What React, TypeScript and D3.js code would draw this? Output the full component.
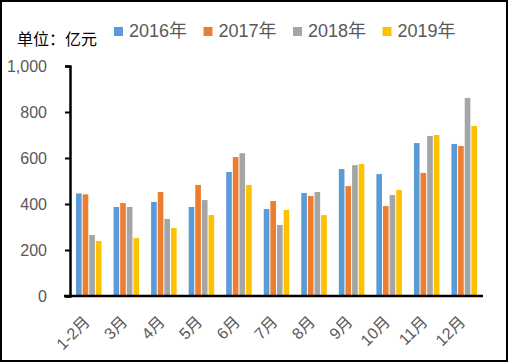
import React, { useEffect, useRef } from 'react';
import * as d3 from 'd3';

const months = ['1-2月', '3月', '4月', '5月', '6月', '7月', '8月', '9月', '10月', '11月', '12月'];
const series = ['2016年', '2017年', '2018年', '2019年'];
const colors = ['#5B9BD5', '#ED7D31', '#A5A5A5', '#FFC000'];
const v2016 = [446, 387, 409, 387, 539, 378, 448, 552, 530, 665, 661];
const v2017 = [442, 404, 452, 483, 604, 413, 435, 478, 391, 535, 652];
const v2018 = [265, 387, 335, 417, 621, 309, 452, 569, 439, 696, 861];
const v2019 = [239, 252, 296, 352, 483, 374, 352, 574, 461, 700, 739];
const yTicks = [0, 200, 400, 600, 800, 1000];

const W = 508, H = 362;
const FONT = '"Liberation Sans", "Noto Sans CJK SC", sans-serif';

const App = () => {
  const ref = useRef<SVGSVGElement>(null);

  useEffect(() => {
    const svg = d3.select(ref.current);
    svg.selectAll('*').remove();
    const values = [v2016, v2017, v2018, v2019];
    const left = 70, right = 483, top = 66, bottom = 296;

    svg.append('rect').attr('x', 1).attr('y', 1).attr('width', W - 2).attr('height', H - 2)
      .attr('fill', '#fff').attr('stroke', '#000').attr('stroke-width', 2);

    const x = d3.scaleBand().domain(months).range([left, right]).paddingInner(0.32).paddingOuter(0.16);
    const x1 = d3.scaleBand().domain(series).range([0, x.bandwidth()]).paddingInner(0.15);
    const y = d3.scaleLinear().domain([0, 1000]).range([bottom, top]);

    const groups = svg.append('g').selectAll('g').data(months).enter().append('g')
      .attr('transform', d => `translate(${x(d)},0)`);
    groups.selectAll('rect')
      .data((_, i) => series.map((s, j) => ({ s, j, v: values[j][i] })))
      .enter().append('rect')
      .attr('x', d => x1(d.s)!)
      .attr('width', x1.bandwidth())
      .attr('y', d => y(d.v))
      .attr('height', d => y(0) - y(d.v))
      .attr('fill', d => colors[d.j]);

    // y axis
    const ya = svg.append('g').attr('transform', `translate(${left},0)`)
      .call(d3.axisLeft(y).tickValues(yTicks).tickSize(5).tickFormat(d3.format(',')));
    ya.select('.domain').attr('stroke', '#000').attr('stroke-width', 2.5);
    ya.selectAll('.tick line').attr('stroke', '#000').attr('stroke-width', 2);
    ya.selectAll('.tick text').attr('x', -23).attr('fill', '#595959')
      .style('font-size', '16px').style('font-family', FONT);

    // x axis line
    svg.append('line').attr('x1', 64).attr('x2', right).attr('y1', bottom).attr('y2', bottom)
      .attr('stroke', '#000').attr('stroke-width', 2.5);

    svg.append('g').selectAll('text').data(months).enter().append('text')
      .attr('transform', d => `translate(${x(d)! + x.bandwidth() / 2 + 2},${bottom + 27}) rotate(-45)`)
      .attr('text-anchor', 'end')
      .attr('fill', '#595959')
      .style('font-size', '16px').style('font-family', FONT)
      .text(d => d);

    svg.append('text').attr('x', 17).attr('y', 45).attr('fill', '#000')
      .style('font-size', '16px').style('font-family', FONT).text('单位：亿元');

    const legend = svg.append('g').selectAll('g').data(series).enter().append('g')
      .attr('transform', (_, i) => `translate(${114 + i * 89.5},0)`);
    legend.append('rect').attr('x', 0).attr('y', 27).attr('width', 9).attr('height', 9)
      .attr('fill', (_, i) => colors[i]);
    legend.append('text').attr('x', 15).attr('y', 37).attr('fill', '#595959')
      .style('font-size', '18px').style('font-family', FONT).text(d => d);
  }, []);

  return <svg ref={ref} width={W} height={H} style={{ position: 'absolute', left: 0, top: 0 }} />;
};

export default App;
